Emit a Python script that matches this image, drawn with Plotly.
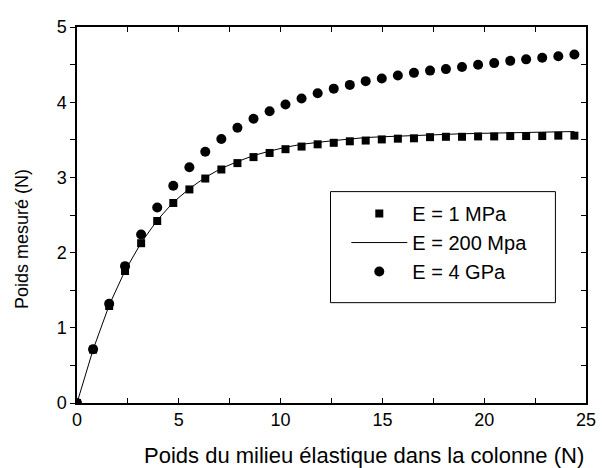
import plotly.graph_objects as go

# Data
x_vals = [0, 0.79, 1.58, 2.36, 3.15, 3.94, 4.73, 5.52, 6.30, 7.09, 7.88, 8.67,
          9.46, 10.24, 11.03, 11.82, 12.61, 13.40, 14.18, 14.97, 15.76, 16.55,
          17.34, 18.12, 18.91, 19.70, 20.49, 21.28, 22.06, 22.85, 23.64, 24.43]
y_1mpa = [0, 0.71, 1.29, 1.755, 2.125, 2.42, 2.66, 2.84, 2.985, 3.105, 3.19, 3.27,
          3.325, 3.375, 3.41, 3.44, 3.46, 3.48, 3.49, 3.505, 3.515, 3.52,
          3.535, 3.54, 3.54, 3.545, 3.545, 3.55, 3.55, 3.55, 3.555, 3.555]
y_200mpa = [0, 0.71, 1.30, 1.76, 2.13, 2.43, 2.67, 2.85, 3.00, 3.12, 3.21, 3.29,
            3.35, 3.40, 3.44, 3.47, 3.49, 3.51, 3.53, 3.54, 3.55, 3.56,
            3.57, 3.575, 3.58, 3.585, 3.59, 3.595, 3.60, 3.60, 3.605, 3.61]
y_4gpa = [0, 0.715, 1.32, 1.82, 2.24, 2.60, 2.89, 3.135, 3.34, 3.51, 3.66, 3.78,
          3.88, 3.97, 4.05, 4.12, 4.18, 4.23, 4.28, 4.315, 4.355, 4.39,
          4.42, 4.44, 4.467, 4.497, 4.52, 4.55, 4.57, 4.59, 4.61, 4.635]

series_names = ["E = 1 MPa", "E = 200 Mpa", "E = 4 GPa"]
x_title = "Poids du milieu élastique dans la colonne (N)"
y_title = "Poids mesuré (N)"

FONT = "Liberation Sans, Arial, sans-serif"

# page has an 8px body margin: figure is sized/offset to compensate
W, H = 597, 460
ML, MR, MT, MB = 69, 12, 9, 65
PW, PH = W - ML - MR, H - MT - MB  # 516 x 386


def px_x(page_x):
    return (page_x - 8 - ML) / PW


def px_y(page_y):
    return (H - MB - (page_y - 8)) / PH


fig = go.Figure()
fig.add_trace(go.Scatter(x=x_vals, y=y_1mpa, mode="markers", name=series_names[0],
                         marker=dict(symbol="square", size=8, color="black")))
fig.add_trace(go.Scatter(x=x_vals, y=y_200mpa, mode="lines", name=series_names[1],
                         line=dict(color="black", width=1)))
fig.add_trace(go.Scatter(x=x_vals, y=y_4gpa, mode="markers", name=series_names[2],
                         marker=dict(symbol="circle", size=10, color="black")))
# invisible trace so the right-hand axis is drawn
fig.add_trace(go.Scatter(x=[0], y=[0], yaxis="y2", mode="markers",
                         marker=dict(opacity=0), showlegend=False, hoverinfo="skip"))

tick_common = dict(ticklen=5, tickwidth=1.2, tickcolor="black")

fig.update_layout(
    width=W, height=H,
    margin=dict(l=ML, r=MR, t=MT, b=MB),
    paper_bgcolor="white", plot_bgcolor="white",
    font=dict(family=FONT, size=18, color="black"),
    showlegend=True,
    legend=dict(x=px_x(350), y=px_y(188.5), xanchor="left", yanchor="top",
                borderwidth=0, bgcolor="rgba(0,0,0,0)",
                font=dict(size=20), itemwidth=56),
    xaxis=dict(range=[0, 25], dtick=5, tick0=0, showgrid=False, zeroline=False,
               showline=True, linecolor="black", linewidth=1.5, mirror="ticks",
               ticks="inside", **tick_common,
               minor=dict(ticks="inside", dtick=2.5, **tick_common),
               tickfont=dict(size=18)),
    yaxis=dict(range=[0, 5], dtick=1, tick0=0, showgrid=False, zeroline=False,
               showline=True, linecolor="black", linewidth=1.5, mirror=True,
               ticks="outside", **tick_common,
               minor=dict(ticks="outside", dtick=0.5, **tick_common),
               tickfont=dict(size=18)),
    yaxis2=dict(overlaying="y", side="right", matches="y", showgrid=False, zeroline=False,
                showline=True, linecolor="black", linewidth=1.5,
                ticks="inside", dtick=1, **tick_common,
                minor=dict(ticks="inside", dtick=0.5, **tick_common),
                showticklabels=False),
    shapes=[
        dict(type="rect", xref="paper", yref="paper",
             x0=px_x(334), x1=px_x(562), y0=px_y(300), y1=px_y(186),
             line=dict(color="black", width=1), fillcolor="white", layer="below"),
    ],
    annotations=[
        dict(text=x_title, xref="paper", yref="paper", x=px_x(367.5), y=px_y(457),
             xanchor="center", yanchor="middle", showarrow=False, font=dict(size=22)),
        dict(text=y_title, xref="paper", yref="paper", x=px_x(22), y=px_y(235),
             xanchor="center", yanchor="middle", showarrow=False, textangle=-90,
             font=dict(size=18)),
    ],
)

fig.write_html("out.html")
